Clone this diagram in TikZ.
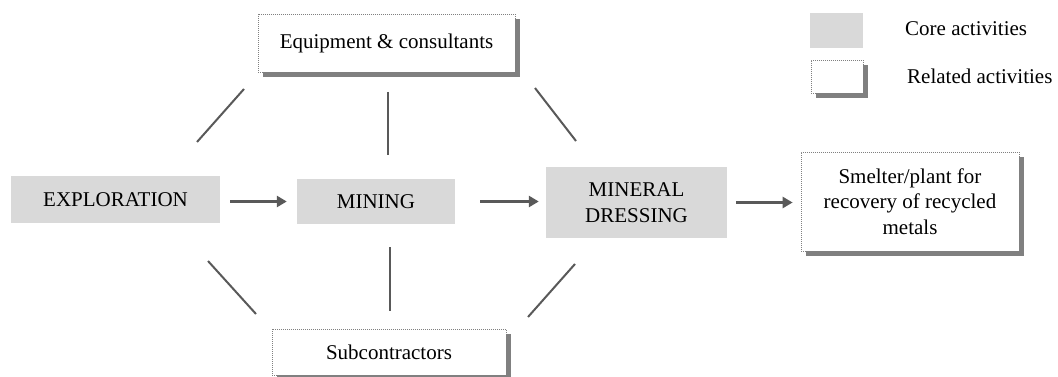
\documentclass[tikz,border=0pt]{standalone}
\usepackage{fontspec}
\setmainfont{Liberation Serif}
\usetikzlibrary{arrows.meta,shadows}
\definecolor{corefill}{HTML}{D9D9D9}
\definecolor{linecol}{HTML}{595959}
\definecolor{shadowcol}{HTML}{808080}
\begin{document}
\begin{tikzpicture}[x=1pt,y=-1pt,
  every node/.style={font=\fontsize{21}{25.5}\selectfont, align=center, inner sep=0pt},
  core/.style={fill=corefill, draw=none, rectangle},
  related/.style={fill=white, draw=gray, line width=0.7pt, dash pattern=on 1pt off 1pt, rectangle,
    drop shadow={shadow xshift=5pt, shadow yshift=-5pt, fill=shadowcol, opacity=1}},
  arr/.style={line width=3pt, draw=linecol, -{Triangle[length=10pt,width=11pt]}},
  link/.style={line width=2pt, draw=linecol}
]
\useasboundingbox (0,0) rectangle (1058,377);

% core activities
\node[core, minimum width=209pt, minimum height=47pt] (expl) at (115.5,199.5) {EXPLORATION};
\node[core, minimum width=158pt, minimum height=45pt] (mining) at (376,201.5) {MINING};
\node[core, minimum width=181pt, minimum height=71pt] (mineral) at (636.5,202.5) {MINERAL\\DRESSING};

% related activities
\node[related, minimum width=257pt, minimum height=58pt] (equip) at (386.5,43) {Equipment \& consultants};
\node[related, minimum width=218pt, minimum height=99pt] (smelter) at (910,201.5) {Smelter/plant for\\recovery of recycled\\metals};
\node[related, minimum width=234pt, minimum height=46pt] (sub) at (389,352) {Subcontractors};

% legend
\node[core, minimum width=53pt, minimum height=35pt] (lcore) at (836.5,30.5) {};
\node[related, minimum width=52pt, minimum height=33pt] (lrel) at (837,76.5) {};
\node[anchor=west] (lcoretext) at (905,29) {Core activities};
\node[anchor=west] (lreltext) at (907,76) {Related activities};

% flow arrows
\draw[arr, shorten <=10pt, shorten >=10pt] (expl.east |- mining.west) -- (mining.west);
\draw[arr, shorten <=25pt, shorten >=7pt] (mining.east) -- (mining.east -| mineral.west);
\draw[arr, shorten <=9pt, shorten >=8pt] (mineral.east) -- (mineral.east -| smelter.west);

% connector lines
\coordinate (ula) at (244,89);  \coordinate (ulb) at (197,142);
\coordinate (uma) at (388,92);  \coordinate (umb) at (388,155);
\coordinate (ura) at (535,88);  \coordinate (urb) at (576,141);
\coordinate (lla) at (208,261); \coordinate (llb) at (256,314);
\coordinate (lma) at (390,247); \coordinate (lmb) at (390,311);
\coordinate (lra) at (575,264); \coordinate (lrb) at (528,317);
\draw[link] (ula) -- (ulb);
\draw[link] (uma) -- (umb);
\draw[link] (ura) -- (urb);
\draw[link] (lla) -- (llb);
\draw[link] (lma) -- (lmb);
\draw[link] (lra) -- (lrb);
\end{tikzpicture}
\end{document}
